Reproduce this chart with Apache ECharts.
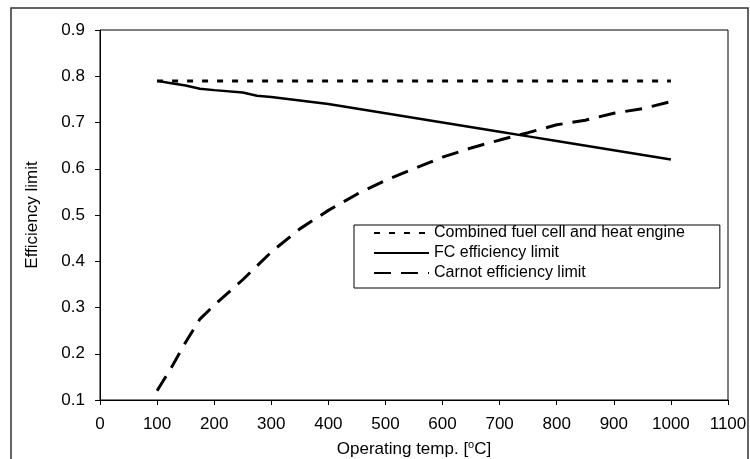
<!DOCTYPE html>
<html>
<head>
<meta charset="utf-8">
<script src="https://cdn.jsdelivr.net/npm/echarts@6/dist/echarts.min.js"></script>
<style>
  html, body { margin: 0; padding: 0; background: #fff; }
  #chart { width: 750px; height: 459px; }
</style>
</head>
<body>
<div id="chart"></div>
<script>
// operating temperature [°C]
const tempCombined = [100, 1000]
const combined = [0.79, 0.79]

const tempFC = [100, 125, 150, 175, 200, 250, 275, 300, 400, 500, 600, 700, 750, 800, 900, 1000]
const fcLimit = [0.79, 0.785, 0.78, 0.773, 0.77, 0.765, 0.758, 0.755, 0.74, 0.72, 0.70, 0.68, 0.67, 0.66, 0.64, 0.62]

const tempCarnot = [100, 125, 150, 175, 200, 250, 300, 350, 400, 450, 500, 550, 600, 650, 700, 750, 800, 850, 900, 950, 1000]
const carnotLimit = [0.12, 0.17, 0.225, 0.275, 0.305, 0.36, 0.42, 0.47, 0.51, 0.545, 0.575, 0.60, 0.625, 0.645, 0.662, 0.678, 0.695, 0.705, 0.72, 0.73, 0.745]

const seriesNames = ['Combined fuel cell and heat engine', 'FC efficiency limit', 'Carnot efficiency limit']

const zip = (xs, ys) => xs.map((x, i) => [x, ys[i]])

const font = 'Liberation Sans, Arial, sans-serif'

const chart = echarts.init(document.getElementById('chart'))

const option = {
  animation: false,
  backgroundColor: '#fff',
  textStyle: { fontFamily: font, color: '#000' },
  graphic: [{
    type: 'rect',
    shape: { x: 11, y: 8, width: 737, height: 470 },
    style: { fill: 'none', stroke: '#333', lineWidth: 1.5 },
    z: 0
  }],
  grid: {
    left: 100,
    right: 22,
    top: 30,
    bottom: 59,
    outerBoundsMode: 'none',
    containLabel: false,
    show: true,
    borderColor: '#000',
    borderWidth: 1
  },
  legend: {
    data: seriesNames,
    orient: 'vertical',
    left: 354,
    top: 225,
    align: 'left',
    itemWidth: 55,
    itemHeight: 14,
    itemGap: 4,
    padding: [0, 35, 7, 19],
    borderColor: '#000',
    borderWidth: 1,
    backgroundColor: '#fff',
    itemStyle: { color: 'transparent', opacity: 0, borderWidth: 0 },
    textStyle: { fontFamily: font, fontSize: 16, color: '#000' }
  },
  xAxis: {
    type: 'value',
    min: 0,
    max: 1100,
    interval: 100,
    name: 'Operating temp. [{sup|o}C]',
    nameLocation: 'middle',
    nameGap: 39,
    nameTextStyle: {
      fontFamily: font, fontSize: 17, color: '#000',
      rich: { sup: { fontFamily: font, fontSize: 11, color: '#000', verticalAlign: 'top', padding: [0, 0, 9, 0] } }
    },
    axisLine: { lineStyle: { color: '#000', width: 1 } },
    axisTick: { show: true, length: 5, lineStyle: { color: '#000' } },
    axisLabel: { fontFamily: font, fontSize: 17, color: '#000', margin: 16, formatter: v => String(v) },
    splitLine: { show: false }
  },
  yAxis: {
    type: 'value',
    min: 0.1,
    max: 0.9,
    interval: 0.1,
    name: 'Efficiency limit',
    nameLocation: 'middle',
    nameGap: 59,
    nameTextStyle: { fontFamily: font, fontSize: 17, color: '#000' },
    axisLine: { show: true, lineStyle: { color: '#000', width: 1 } },
    axisTick: { show: true, length: 5, lineStyle: { color: '#000' } },
    axisLabel: {
      fontFamily: font, fontSize: 17, color: '#000', margin: 15,
      formatter: v => v.toFixed(1)
    },
    splitLine: { show: false }
  },
  series: [
    {
      name: seriesNames[0],
      type: 'line',
      data: zip(tempCombined, combined),
      symbol: 'none',
      itemStyle: { color: '#000' },
      lineStyle: { color: '#000', width: 3, type: [6, 9] }
    },
    {
      name: seriesNames[1],
      type: 'line',
      data: zip(tempFC, fcLimit),
      symbol: 'none',
      itemStyle: { color: '#000' },
      lineStyle: { color: '#000', width: 2.5, type: 'solid' }
    },
    {
      name: seriesNames[2],
      type: 'line',
      data: zip(tempCarnot, carnotLimit),
      symbol: 'none',
      itemStyle: { color: '#000' },
      lineStyle: { color: '#000', width: 3, type: [17, 10] }
    }
  ]
}

chart.setOption(option)
</script>
</body>
</html>
